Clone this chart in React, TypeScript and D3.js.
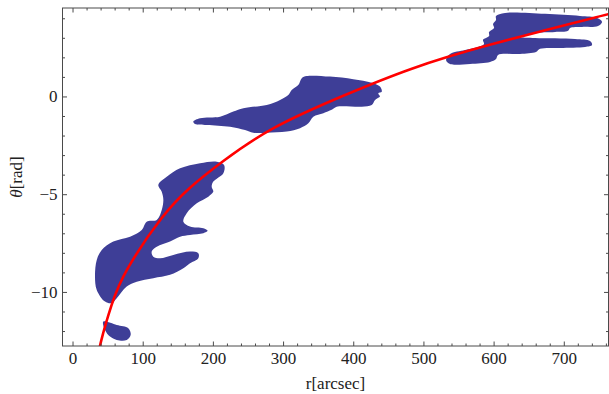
import React from 'react'
import * as d3 from 'd3'

// axis ticks
const xMajor = [0, 100, 200, 300, 400, 500, 600, 700]
const yMajor = [-10, -5, 0]
const xMinorStep = 20
const yMinorStep = 1

// fitted arm (r, theta)
const armFit: [number, number][] = [
  [36.0, -13.3],
  [37.5, -12.74],
  [55.1, -10.54],
  [71.6, -9.0],
  [128.7, -5.95],
  [166.7, -4.6],
  [209.5, -3.38],
  [280.7, -1.55],
  [390.0, 0.15],
  [480.2, 1.47],
  [579.9, 2.57],
  [763.5, 4.25],
  [780, 4.38],
]

// contour outlines (r, theta)
const innerBlob: [number, number][] = [
  [121.5, -4.5], [133.5, -4.08], [152.5, -3.65], [181.0, -3.39], [204.8, -3.31],
  [215.2, -3.48], [214.2, -3.9], [199.9, -4.33], [197.6, -4.59], [199.9, -4.84],
  [192.8, -5.1], [176.3, -5.44], [162.0, -5.95], [157.2, -6.38], [166.7, -6.63],
  [185.7, -6.72], [191.9, -6.85], [185.7, -6.97], [166.7, -7.06], [152.5, -7.15],
  [138.2, -7.4], [119.3, -7.66], [112.1, -7.91], [114.4, -8.17], [124.0, -8.25],
  [142.9, -8.08], [166.7, -7.91], [178.5, -7.99], [178.5, -8.25], [166.7, -8.51],
  [157.2, -8.76], [138.2, -9.1], [114.4, -9.27], [90.8, -9.45], [76.5, -9.7],
  [62.3, -10.3], [55.1, -10.55], [45.6, -10.47], [33.8, -9.87], [31.3, -9.19],
  [33.8, -8.34], [40.9, -7.83], [57.4, -7.4], [81.2, -7.15], [97.9, -6.8],
  [105.0, -6.38], [119.3, -6.29], [126.4, -5.78], [128.7, -5.27], [126.4, -4.85],
]

const knotBlob: [number, number][] = [
  [43.2, -11.49], [62.3, -11.66], [78.8, -11.83], [82.2, -12.17],
  [76.5, -12.43], [62.3, -12.43], [52.7, -12.26], [45.6, -11.92],
]

const middleBlob: [number, number][] = [
  [171.4, -1.26], [181.0, -1.09], [209.5, -1.01], [228.4, -0.75], [242.7, -0.58],
  [276.0, -0.41], [295.0, -0.15], [306.8, 0.1], [311.6, 0.36], [321.0, 0.61],
  [325.9, 0.96], [333.0, 1.07], [366.2, 1.04], [399.4, 0.91], [425.6, 0.73],
  [437.4, 0.53], [439.9, 0.27], [435.0, 0.19], [437.4, 0.02], [430.3, -0.15],
  [425.6, -0.41], [411.4, -0.5], [375.7, -0.5], [368.6, -0.66], [356.7, -0.83],
  [342.4, -1.01], [335.3, -1.35], [323.5, -1.6], [304.5, -1.77], [276.0, -1.83],
  [256.9, -1.83], [245.1, -1.69], [223.7, -1.52], [190.5, -1.43], [173.8, -1.38],
]

const outerBlob: [number, number][] = [
  [602.7, 4.14], [615.6, 4.3], [672.6, 4.25], [722.4, 4.14], [746.7, 4.04],
  [753.8, 3.84], [748.1, 3.63], [725.3, 3.58], [708.2, 3.53], [705.3, 3.38],
  [686.8, 3.32], [658.3, 3.27], [648.3, 3.17], [636.9, 3.07], [658.3, 3.02],
  [715.3, 2.97], [736.7, 2.86], [739.5, 2.66], [729.6, 2.56], [693.9, 2.51],
  [665.4, 2.46], [659.7, 2.3], [636.9, 2.2], [605.6, 2.15], [602.7, 1.94],
  [594.2, 1.79], [565.7, 1.69], [537.2, 1.69], [531.5, 1.89], [537.2, 2.2],
  [558.6, 2.4], [577.1, 2.56], [585.6, 2.71], [584.2, 2.92], [592.8, 3.12],
  [592.8, 3.32], [599.9, 3.53], [598.5, 3.73], [602.7, 3.94],
]

const blobs = [innerBlob, knotBlob, middleBlob, outerBlob]

const W = 609, H = 394
const left = 62.5, right = 608.5, top = 8, bottom = 346
const frameColor = '#4a4a4a'
const textStyle = { fontFamily: "'Liberation Serif'", fontSize: '17px' }

function SpiralArmChart() {
  const x = d3.scaleLinear().domain([-15, 763]).range([left, right])
  const y = d3.scaleLinear().domain([-12.74, 4.55]).range([bottom, top])

  const blobLine = d3.line<[number, number]>()
    .x(d => x(d[0]))
    .y(d => y(d[1]))
    .curve(d3.curveCatmullRomClosed.alpha(0.5))

  const armLine = d3.line<[number, number]>()
    .x(d => x(d[0]))
    .y(d => y(d[1]))
    .curve(d3.curveBasis)

  const [x0, x1] = x.domain()
  const xMinor = d3.range(Math.ceil(x0 / xMinorStep) * xMinorStep, x1, xMinorStep)
    .filter(v => !xMajor.includes(v))
  const [y0, y1] = y.domain()
  const yMinor = d3.range(Math.ceil(y0), y1, yMinorStep).filter(v => !yMajor.includes(v))

  const majorLen = 4.5, minorLen = 2.5
  const xTicks = [...xMajor.map(v => [v, majorLen]), ...xMinor.map(v => [v, minorLen])]
  const yTicks = [...yMajor.map(v => [v, majorLen]), ...yMinor.map(v => [v, minorLen])]

  const fmt = (v: number) => (v < 0 ? '\u2212' + Math.abs(v) : String(v))

  return (
    <svg width={W} height={H} style={{ position: 'absolute', left: 0, top: 0, display: 'block' }}>
      <defs>
        <clipPath id="plotClip">
          <rect x={left} y={top} width={right - left} height={bottom - top} />
        </clipPath>
      </defs>
      <g clipPath="url(#plotClip)">
        {blobs.map((b, i) => (
          <path key={i} d={blobLine(b) || ''} fill="#3e3e97" />
        ))}
        <path d={armLine(armFit) || ''} fill="none" stroke="#ff0000" strokeWidth={2.6} />
      </g>

      <rect x={left} y={top} width={right - left} height={bottom - top}
        fill="none" stroke={frameColor} strokeWidth={1} />

      <g stroke={frameColor} strokeWidth={1}>
        {xTicks.map(([v, len], i) => (
          <g key={'x' + i}>
            <line x1={x(v)} x2={x(v)} y1={bottom} y2={bottom - len} />
            <line x1={x(v)} x2={x(v)} y1={top} y2={top + len} />
          </g>
        ))}
        {yTicks.map(([v, len], i) => (
          <g key={'y' + i}>
            <line y1={y(v)} y2={y(v)} x1={left} x2={left + len} />
            <line y1={y(v)} y2={y(v)} x1={right} x2={right - len} />
          </g>
        ))}
      </g>

      <g fill="#222" style={textStyle}>
        {xMajor.map(v => (
          <text key={v} x={x(v)} y={bottom + 18} textAnchor="middle">{fmt(v)}</text>
        ))}
        {yMajor.map(v => (
          <text key={v} x={left - 5} y={y(v) + 5.5} textAnchor="end">{fmt(v)}</text>
        ))}
        <text x={(left + right) / 2} y={389} textAnchor="middle">r[arcsec]</text>
        <text transform={`translate(22, ${(top + bottom) / 2}) rotate(-90)`} textAnchor="middle">
          <tspan fontStyle="italic">{'\u03b8'}</tspan>[rad]
        </text>
      </g>
    </svg>
  )
}

export default function App() {
  return <SpiralArmChart />
}
